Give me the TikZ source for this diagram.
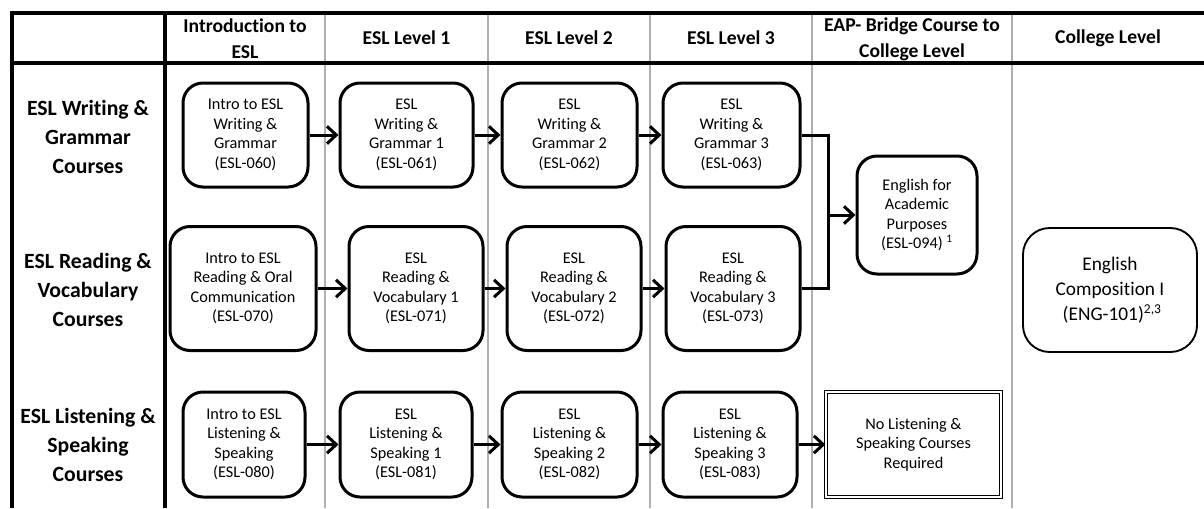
\documentclass[tikz,border=0pt]{standalone}
\usepackage{fontspec}
\setmainfont{Carlito}[Ligatures={NoCommon,NoRequired,NoContextual}, Contextuals=NoAlternate]
\usetikzlibrary{arrows.meta}
\definecolor{sepgray}{RGB}{175,175,175}
\tikzset{
  frame/.style={line width=3pt, draw=black},
  sepline/.style={line width=1.6pt, draw=sepgray},
  course/.style={draw=black, line width=2.25pt, rounded corners=15pt, align=center, inner sep=0pt,
    font=\fontsize{12.2}{14.6}\selectfont},
  hdr/.style={align=center, font=\bfseries\fontsize{14.7}{19.5}\selectfont},
  rowlbl/.style={align=center, font=\bfseries\fontsize{16.3}{21.8}\selectfont},
  flow/.style={line width=2.25pt, -{Straight Barb[length=7pt,width=13pt,line width=2.25pt]}},
  link/.style={line width=2.25pt}
}
\begin{document}
\begin{tikzpicture}[x=0.75pt,y=-0.75pt]
\useasboundingbox[fill=white] (0,0) rectangle (1204,508);
% grid
\foreach \xx in {325,488,650,812,1012} \draw[sepline] (\xx,13) -- (\xx,508);
\draw[frame] (10,13) -- (1204,13);
\draw[frame] (10,63) -- (1204,63);
\draw[frame] (12,11.5) -- (12,508);
\draw[frame] (165,11.5) -- (165,508);
% headers
\node[hdr] (h2) at (245,39) {Introduction to\\ESL};
\node[hdr] (h3) at (406.5,38) {ESL Level 1};
\node[hdr] (h4) at (569,38) {ESL Level 2};
\node[hdr] (h5) at (731,38) {ESL Level 3};
\node[hdr] (h6) at (912,39) {EAP- Bridge Course to\\College Level};
\node[hdr] (h7) at (1108,38) {College Level};
% row labels
\node[rowlbl] (r1) at (88,137) {ESL Writing \&\\Grammar\\Courses};
\node[rowlbl] (r2) at (88,290) {ESL Reading \&\\Vocabulary\\Courses};
\node[rowlbl] (r3) at (88,445) {ESL Listening \&\\Speaking\\Courses};
% writing row
\node[course, minimum width={125*0.75pt}, minimum height={104*0.75pt}] (W1) at (245.5,135) {Intro to ESL\\Writing \&\\Grammar\\(ESL-060)};
\node[course, minimum width={133*0.75pt}, minimum height={104*0.75pt}] (W2) at (406.5,135) {ESL\\Writing \&\\Grammar 1\\(ESL-061)};
\node[course, minimum width={135*0.75pt}, minimum height={104*0.75pt}] (W3) at (569.5,135) {ESL\\Writing \&\\Grammar 2\\(ESL-062)};
\node[course, minimum width={137*0.75pt}, minimum height={104*0.75pt}] (W4) at (731.5,135) {ESL\\Writing \&\\Grammar 3\\(ESL-063)};
% reading row
\node[course, minimum width={146*0.75pt}, minimum height={124*0.75pt}] (R1) at (243,288.5) {Intro to ESL\\Reading \& Oral\\Communication\\(ESL-070)};
\node[course, minimum width={134*0.75pt}, minimum height={124*0.75pt}] (R2) at (416,288.5) {ESL\\Reading \&\\Vocabulary 1\\(ESL-071)};
\node[course, minimum width={134*0.75pt}, minimum height={124*0.75pt}] (R3) at (574,288.5) {ESL\\Reading \&\\Vocabulary 2\\(ESL-072)};
\node[course, minimum width={134*0.75pt}, minimum height={124*0.75pt}] (R4) at (733,288.5) {ESL\\Reading \&\\Vocabulary 3\\(ESL-073)};
% listening row
\node[course, minimum width={122*0.75pt}, minimum height={105*0.75pt}] (L1) at (244,444.5) {Intro to ESL\\Listening \&\\Speaking\\(ESL-080)};
\node[course, minimum width={132*0.75pt}, minimum height={105*0.75pt}] (L2) at (406,444.5) {ESL\\Listening \&\\Speaking 1\\(ESL-081)};
\node[course, minimum width={135*0.75pt}, minimum height={105*0.75pt}] (L3) at (569.5,444.5) {ESL\\Listening \&\\Speaking 2\\(ESL-082)};
\node[course, minimum width={134*0.75pt}, minimum height={105*0.75pt}] (L4) at (730,444.5) {ESL\\Listening \&\\Speaking 3\\(ESL-083)};
% EAP
\node[course, minimum width={120*0.75pt}, minimum height={118*0.75pt}] (EAP) at (917,215) {English for\\Academic\\Purposes\\(ESL-094) \textsuperscript{1}};
% English composition
\node[draw=black, line width=1.4pt, rounded corners=20pt, align=center, inner sep=0pt,
  minimum width={174*0.75pt}, minimum height={124*0.75pt},
  font=\fontsize{14.5}{19}\selectfont] (ENG) at (1110,290) {English\\Composition I\\\ (ENG-101)\textsuperscript{2,3}};
% no listening
\node[draw=black, line width=0.9pt, double=white, double distance=0.8pt, align=center, inner sep=0pt,
  minimum width={175*0.75pt}, minimum height={105*0.75pt},
  font=\fontsize{12.2}{14.6}\selectfont] (NOL) at (913.5,444.5) {No Listening \&\\Speaking Courses\\Required};
% arrows
\draw[flow] (W1) -- (W2);
\draw[flow] (W2) -- (W3);
\draw[flow] (W3) -- (W4);
\draw[flow] (R1) -- (R2);
\draw[flow] (R2) -- (R3);
\draw[flow] (R3) -- (R4);
\draw[flow] (L1) -- (L2);
\draw[flow] (L2) -- (L3);
\draw[flow] (L3) -- (L4);
\draw[flow] (L4) -- (NOL);
\coordinate (jx) at (828,0);
\draw[link, line join=miter] (W4.east) -| (jx |- R4.east) -- (R4.east);
\draw[flow] (jx |- EAP.west) -- (EAP.west);
\end{tikzpicture}
\end{document}
